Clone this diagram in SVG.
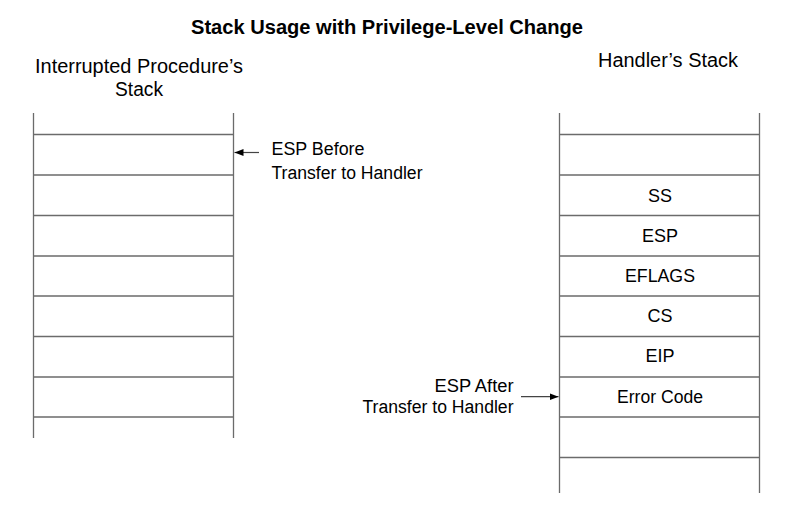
<svg xmlns="http://www.w3.org/2000/svg" width="786" height="505" viewBox="0 0 786 505">
<style>
text{font-family:"Liberation Sans",Arial,sans-serif;fill:#000}
.title{font-size:20px;font-weight:bold}
.hdr{font-size:20px}
.lbl{font-size:18px}
.c{text-anchor:middle}
.r{text-anchor:end}
.ln{stroke:#6b6b6b;stroke-width:1.3;fill:none}
.ar{stroke:#444;stroke-width:1.2;fill:none}
</style>
<defs>
<marker id="ah" markerWidth="10" markerHeight="8" refX="9" refY="4" orient="auto" markerUnits="userSpaceOnUse">
<path d="M0,0.5 L9,4 L0,7.5 Z" fill="#000"/>
</marker>
</defs>
<rect width="786" height="505" fill="#fff"/>
<g id="title">
<text class="title c" x="387" y="33.5" textLength="392" lengthAdjust="spacingAndGlyphs">Stack Usage with Privilege-Level Change</text>
</g>
<g id="interrupted-stack">
<text class="hdr c" x="139" y="73" textLength="208" lengthAdjust="spacingAndGlyphs">Interrupted Procedure’s</text>
<text class="hdr c" x="139" y="96" textLength="48" lengthAdjust="spacingAndGlyphs">Stack</text>
<path class="ln" d="M33.5,113V438M233.5,113V438M33.5,134.5H233.5M33.5,175H233.5M33.5,215.5H233.5M33.5,256H233.5M33.5,296H233.5M33.5,336.5H233.5M33.5,377H233.5M33.5,417H233.5"/>
</g>
<g id="handler-stack">
<text class="hdr c" x="668" y="67" textLength="140" lengthAdjust="spacingAndGlyphs">Handler’s Stack</text>
<path class="ln" d="M559.5,113V493M759.5,113V493M559.5,134.5H759.5M559.5,175H759.5M559.5,215.5H759.5M559.5,256H759.5M559.5,296H759.5M559.5,336.5H759.5M559.5,377H759.5M559.5,417H759.5M559.5,457.5H759.5"/>
<g id="cell-ss"><text class="lbl c" x="660" y="201.7">SS</text></g>
<g id="cell-esp"><text class="lbl c" x="660" y="241.7">ESP</text></g>
<g id="cell-eflags"><text class="lbl c" x="660" y="281.7" textLength="70" lengthAdjust="spacingAndGlyphs">EFLAGS</text></g>
<g id="cell-cs"><text class="lbl c" x="660" y="322.3">CS</text></g>
<g id="cell-eip"><text class="lbl c" x="660" y="362.3">EIP</text></g>
<g id="cell-error"><text class="lbl c" x="660" y="403.3" textLength="86" lengthAdjust="spacingAndGlyphs">Error Code</text></g>
</g>
<g id="label-before">
<text class="lbl" x="271.5" y="155" textLength="93" lengthAdjust="spacingAndGlyphs">ESP Before</text>
<text class="lbl" x="271.5" y="179.3" textLength="151" lengthAdjust="spacingAndGlyphs">Transfer to Handler</text>
</g>
<g id="label-after">
<text class="lbl r" x="513.5" y="391.7" textLength="79" lengthAdjust="spacingAndGlyphs">ESP After</text>
<text class="lbl r" x="513.5" y="412.7" textLength="151" lengthAdjust="spacingAndGlyphs">Transfer to Handler</text>
</g>
<g id="connectors">
<line class="ar" x1="259" y1="152.5" x2="234.5" y2="152.5" marker-end="url(#ah)"/>
<line class="ar" x1="521" y1="396.7" x2="558.5" y2="396.7" marker-end="url(#ah)"/>
</g>
</svg>
